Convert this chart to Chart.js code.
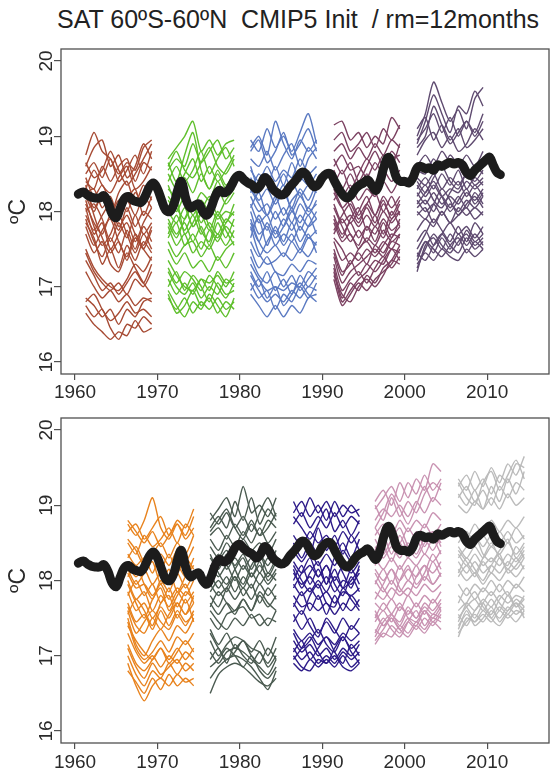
<!DOCTYPE html>
<html lang="en">
<head>
<meta charset="UTF-8">
<title>SAT 60ºS-60ºN CMIP5 Init</title>
<script src="https://cdn.jsdelivr.net/npm/chart.js"></script>
<style>
  html, body { margin: 0; padding: 0; background: #fff; }
  body { width: 552px; height: 776px; position: relative; overflow: hidden; }
  #title { position: absolute; left: 57px; top: 5px; font: 25px 'Liberation Sans', Arial, sans-serif; color: #222; white-space: pre; }
  canvas { position: absolute; left: 0; }
  #chartTop { top: 0; }
  #chartBottom { top: 400px; }
</style>
</head>
<body>
<div id="title">SAT 60ºS-60ºN  CMIP5 Init  / rm=12months</div>
<canvas id="chartTop" width="552" height="400"></canvas>
<canvas id="chartBottom" width="552" height="376"></canvas>
<script>
// observed SAT, 12 month running mean
const obsYear = [1960.4, 1961.0, 1961.5, 1962.0, 1962.5, 1963.0, 1963.5, 1964.0, 1964.5, 1965.0,
  1965.5, 1966.0, 1966.5, 1967.0, 1967.5, 1968.0, 1968.5, 1969.0, 1969.5, 1970.0,
  1970.5, 1971.0, 1971.5, 1972.0, 1972.5, 1972.9, 1973.5, 1974.0, 1974.5, 1975.0,
  1975.5, 1976.0, 1976.5, 1977.0, 1977.5, 1978.0, 1978.5, 1979.0, 1979.5, 1980.0,
  1980.5, 1981.0, 1981.5, 1982.0, 1982.5, 1983.0, 1983.5, 1984.0, 1984.5, 1985.0,
  1985.5, 1986.0, 1986.5, 1987.0, 1987.5, 1988.0, 1988.5, 1989.0, 1989.5, 1990.0,
  1990.5, 1991.0, 1991.5, 1992.0, 1992.5, 1993.0, 1993.5, 1994.0, 1994.5, 1995.0,
  1995.5, 1996.0, 1996.5, 1997.0, 1997.5, 1998.0, 1998.5, 1999.0, 1999.5, 2000.0,
  2000.5, 2001.0, 2001.5, 2002.0, 2002.5, 2003.0, 2003.5, 2004.0, 2004.5, 2005.0,
  2005.5, 2006.0, 2006.5, 2007.0, 2007.5, 2008.0, 2008.5, 2009.0, 2009.5, 2010.0,
  2010.3, 2010.8, 2011.2, 2011.6];
const obsTemp = [18.23, 18.26, 18.22, 18.19, 18.18, 18.18, 18.21, 18.12, 17.97, 17.92,
  18.05, 18.17, 18.20, 18.15, 18.13, 18.12, 18.20, 18.32, 18.38, 18.30,
  18.15, 18.02, 18.00, 18.10, 18.30, 18.40, 18.15, 18.05, 18.08, 18.10,
  18.00, 17.95, 18.05, 18.20, 18.28, 18.25, 18.27, 18.35, 18.45, 18.48,
  18.42, 18.38, 18.35, 18.30, 18.35, 18.45, 18.40, 18.30, 18.25, 18.22,
  18.24, 18.32, 18.38, 18.45, 18.52, 18.50, 18.40, 18.33, 18.36, 18.45,
  18.50, 18.50, 18.40, 18.30, 18.22, 18.18, 18.22, 18.30, 18.35, 18.38,
  18.42, 18.35, 18.28, 18.40, 18.60, 18.72, 18.62, 18.45, 18.40, 18.40,
  18.38, 18.45, 18.58, 18.60, 18.57, 18.58, 18.55, 18.62, 18.60, 18.63,
  18.65, 18.63, 18.65, 18.62, 18.52, 18.48, 18.55, 18.60, 18.65, 18.70,
  18.72, 18.60, 18.52, 18.49];

// hindcast start dates and colours
const startTop = [1961.3, 1971.3, 1981.3, 1991.4, 2001.5];
const startBottom = [1966.4, 1976.4, 1986.5, 1996.4, 2006.5];
const colourTop = ['#a74b34', '#5fbf2c', '#5b7ac2', '#7c4262', '#5f4b70'];
const colourBottom = ['#e8831e', '#4b5b51', '#2d1b89', '#c993b2', '#bbbbbb'];
const leadYears = [0, 1, 2, 3, 4, 5, 6, 7, 8];

// ensemble members, one value per lead year
const run1961 = [
  [18.75,19.05,18.8,18.7,18.5,18.65,18.55,18.85,18.95],
  [18.6,18.85,18.95,18.6,18.75,18.45,18.6,18.9,18.7],
  [18.5,18.65,18.45,18.7,18.4,18.55,18.75,18.5,18.8],
  [18.4,18.3,18.6,18.4,18.6,18.7,18.4,18.65,18.55],
  [18.65,18.45,18.55,18.8,18.55,18.35,18.5,18.7,18.9],
  [18.3,18.55,18.35,18.25,18.45,18.6,18.3,18.4,18.6],
  [18.2,18.0,18.25,17.95,18.15,18.0,18.25,18.1,18.3],
  [18.1,17.85,17.7,17.95,17.75,18.05,17.8,18.0,17.9],
  [18.0,18.1,17.9,17.6,17.85,17.65,17.95,17.7,17.85],
  [17.9,17.6,17.4,17.65,17.45,17.75,17.5,17.8,17.6],
  [18.35,17.95,17.65,17.45,17.6,17.35,17.65,17.5,17.75],
  [18.25,18.3,18.05,18.2,17.9,18.15,18.3,17.95,18.2],
  [17.95,17.75,17.95,18.1,17.8,17.95,17.7,17.55,17.8],
  [18.15,17.8,17.55,17.7,17.95,17.7,17.45,17.7,17.5],
  [17.8,17.55,17.75,17.9,17.6,17.4,17.7,17.5,17.35],
  [18.05,17.7,17.85,17.5,17.7,17.85,17.6,17.85,18.05],
  [18.45,18.2,18.35,18.1,17.9,18.15,17.95,18.2,18.05],
  [17.7,17.45,17.6,17.3,17.2,17.45,17.25,17.05,16.9],
  [17.85,17.65,17.3,17.5,17.25,17.55,17.35,17.6,17.45],
  [18.3,18.05,18.2,17.95,18.25,18.4,18.1,18.35,18.15],
  [17.5,17.25,17.1,17.0,16.95,17.1,17.3,17.2,17.4],
  [17.45,17.2,17.05,16.95,17.05,16.9,17.1,17.0,17.2],
  [17.35,17.15,16.95,17.05,16.9,17.05,17.2,17.05,17.3],
  [16.85,16.75,16.6,16.7,16.5,16.7,16.6,16.8,16.85],
  [16.75,16.6,16.7,16.45,16.3,16.5,16.45,16.6,16.5],
  [16.65,16.5,16.4,16.3,16.4,16.35,16.55,16.4,16.45],
  [17.2,17.0,16.85,16.95,16.8,16.9,16.75,16.85,16.8],
  [16.8,16.9,16.7,16.55,16.65,16.8,16.65,16.7,16.6]
];
const run1971 = [
  [18.7,18.85,19.0,19.2,18.8,18.95,18.75,18.9,18.95],
  [18.55,18.7,18.6,18.9,18.65,18.8,18.95,18.7,18.85],
  [18.65,18.4,18.75,19.05,18.55,18.3,18.5,18.3,18.4],
  [18.5,18.3,18.5,18.7,18.4,18.6,18.4,18.55,18.75],
  [18.4,18.6,18.4,18.55,18.8,18.5,18.7,18.85,18.6],
  [18.6,18.8,18.55,18.45,18.65,18.85,18.6,18.5,18.7],
  [18.3,18.2,18.45,18.25,18.5,18.3,18.55,18.35,18.5],
  [18.15,18.0,18.2,17.95,18.15,18.0,18.3,18.1,18.25],
  [18.0,17.85,18.05,17.8,17.95,17.75,18.0,17.85,18.1],
  [17.9,17.7,17.85,17.6,17.8,17.55,17.85,17.65,17.9],
  [17.8,17.55,17.7,17.45,17.6,17.5,17.7,17.55,17.75],
  [17.6,17.4,17.55,17.6,17.4,17.55,17.35,17.5,17.6],
  [18.2,18.05,17.9,18.1,17.85,18.05,17.9,18.0,17.95],
  [17.7,17.95,17.75,17.95,17.7,17.85,17.7,17.9,17.8],
  [18.35,18.1,18.3,18.05,18.25,18.15,18.4,18.2,18.45],
  [17.5,17.3,17.45,17.25,17.35,17.2,17.4,17.25,17.45],
  [18.05,18.25,18.1,17.8,18.0,18.2,17.95,18.15,18.3],
  [17.85,17.65,17.9,18.1,17.75,17.6,17.95,17.75,17.55],
  [17.95,18.15,17.7,17.85,18.05,17.8,17.65,17.85,18.0],
  [17.65,17.85,17.55,17.7,17.5,17.75,17.6,17.8,17.65],
  [17.35,17.15,17.0,16.95,17.1,17.05,17.15,17.0,17.2],
  [17.2,17.0,16.9,17.05,16.85,17.0,16.9,17.1,17.0],
  [16.95,16.75,16.6,16.8,16.7,16.9,16.75,16.6,16.85],
  [16.85,16.7,16.85,16.65,16.8,16.7,16.85,16.7,16.8],
  [17.1,16.9,17.05,16.9,17.1,16.95,17.2,17.05,17.1],
  [17.25,17.05,17.2,17.1,16.95,17.15,17.0,16.85,17.05],
  [17.0,17.2,16.95,17.15,17.0,16.8,17.05,16.9,16.95],
  [16.9,16.65,16.75,16.95,16.75,16.85,16.65,16.8,16.7]
];
const run1981 = [
  [18.95,18.8,19.1,18.85,19.0,18.8,19.05,19.3,18.9],
  [18.85,19.0,18.75,19.2,18.9,18.7,18.95,18.8,18.95],
  [18.7,18.6,18.8,18.55,18.75,18.9,18.6,18.85,18.7],
  [18.55,18.4,18.6,18.4,18.55,18.45,18.7,18.5,18.6],
  [18.25,18.5,18.35,18.6,18.35,18.65,18.4,18.7,18.85],
  [18.8,18.95,18.65,18.8,19.05,18.75,18.9,19.1,18.8],
  [18.35,18.15,18.3,18.1,18.25,18.05,18.3,18.15,18.4],
  [18.2,18.0,18.1,17.9,18.05,17.85,18.1,17.95,18.15],
  [18.1,17.85,17.95,17.7,17.9,17.75,17.95,17.8,17.9],
  [18.0,17.7,17.8,17.55,17.7,17.6,17.8,17.65,17.75],
  [17.9,17.6,17.45,17.55,17.4,17.6,17.45,17.65,17.55],
  [17.8,17.45,17.3,17.35,17.45,17.35,17.5,17.4,17.6],
  [18.45,18.25,18.45,18.3,18.5,18.3,18.45,18.35,18.5],
  [17.65,17.95,17.75,18.0,17.8,18.0,17.85,18.05,17.9],
  [18.6,18.3,18.5,18.25,18.2,18.4,18.2,18.35,18.25],
  [17.6,17.4,17.6,17.75,17.55,17.7,17.5,17.7,17.45],
  [18.05,18.25,17.95,18.15,18.35,18.0,18.2,18.05,18.3],
  [17.85,17.6,17.85,17.65,17.8,18.05,17.75,17.95,17.7],
  [17.75,17.9,17.55,17.8,17.6,17.85,17.6,17.8,18.0],
  [18.3,18.1,17.95,18.2,17.95,18.15,18.25,18.0,18.1],
  [17.3,17.1,16.95,17.0,16.95,17.05,17.0,17.2,17.1],
  [17.15,16.95,16.8,16.9,16.8,16.95,16.85,17.0,16.95],
  [16.9,16.75,16.6,16.75,16.6,16.75,16.65,16.85,16.9],
  [17.05,16.85,16.95,16.7,16.9,16.8,17.0,16.85,17.05],
  [17.5,17.25,17.4,17.2,17.15,17.3,17.2,17.35,17.3],
  [17.4,17.15,17.05,17.2,17.0,17.15,16.95,17.1,17.25],
  [16.95,17.1,16.85,17.0,16.75,16.9,17.05,16.9,16.8],
  [17.2,17.0,17.2,16.95,17.1,16.9,17.15,17.0,17.15]
];
const run1991 = [
  [19.15,19.2,18.95,19.05,18.85,19.0,18.9,19.25,19.1],
  [18.95,19.05,18.8,18.9,19.05,18.85,19.1,18.95,19.15],
  [18.8,18.9,18.7,18.85,18.7,18.9,18.75,18.95,18.85],
  [18.6,18.75,18.55,18.6,18.45,18.65,18.5,18.7,18.75],
  [18.35,18.55,18.3,18.5,18.7,18.55,18.75,18.6,18.9],
  [18.7,18.5,18.65,18.4,18.6,18.8,18.6,18.8,18.65],
  [18.4,18.2,18.35,18.15,18.3,18.2,18.4,18.25,18.45],
  [18.25,18.05,18.15,17.95,18.1,17.95,18.2,18.05,18.2],
  [18.1,17.85,17.95,17.8,17.95,17.8,18.0,17.85,18.0],
  [17.95,17.7,17.85,17.65,17.8,17.7,17.9,17.75,17.85],
  [17.85,17.6,17.7,17.5,17.65,17.55,17.75,17.6,17.7],
  [18.55,18.3,18.5,18.3,18.5,18.35,18.55,18.4,18.55],
  [17.75,17.95,18.1,17.9,18.05,17.85,18.1,17.95,18.15],
  [18.05,17.8,17.6,17.75,17.6,17.8,17.65,17.9,18.0],
  [18.15,18.3,18.05,17.85,18.1,18.25,18.0,18.2,17.95],
  [17.9,17.65,17.9,18.05,17.75,17.95,17.7,18.0,17.8],
  [18.3,18.05,17.85,18.0,18.2,17.95,18.15,17.9,18.1],
  [17.7,17.9,17.7,17.55,17.8,17.6,17.85,17.65,17.9],
  [17.2,16.8,16.95,17.1,17.2,17.35,17.3,17.5,17.45],
  [17.25,16.85,17.05,16.95,17.15,17.05,17.25,17.35,17.55],
  [17.1,16.75,16.9,17.05,16.95,17.1,17.2,17.3,17.5],
  [17.4,17.05,17.2,17.3,17.4,17.5,17.4,17.6,17.55],
  [17.6,17.35,17.45,17.35,17.5,17.4,17.55,17.7,17.65],
  [17.5,17.2,17.3,17.45,17.3,17.55,17.45,17.65,17.8],
  [17.3,16.95,17.1,17.2,17.05,17.25,17.4,17.25,17.4],
  [17.45,17.15,17.35,17.15,17.3,17.2,17.35,17.5,17.35],
  [17.65,17.5,17.3,17.5,17.6,17.45,17.6,17.5,17.7],
  [17.15,16.9,16.8,17.0,17.1,17.0,17.15,17.35,17.3]
];
const run2001 = [
  [19.0,19.3,19.72,19.45,19.2,19.35,19.1,19.5,19.65],
  [18.9,19.2,19.55,19.3,19.05,19.4,19.3,19.6,19.4],
  [18.95,19.1,19.3,19.05,19.25,19.0,19.2,19.05,19.3],
  [18.75,18.95,19.05,18.85,19.0,18.8,18.9,19.1,18.95],
  [19.1,19.25,18.95,19.15,18.95,19.1,18.85,18.95,19.1],
  [18.85,19.0,19.4,19.15,18.9,19.05,19.2,19.0,19.2],
  [18.6,18.75,18.6,18.8,18.65,18.6,18.75,18.6,18.8],
  [18.45,18.35,18.5,18.3,18.45,18.35,18.5,18.4,18.55],
  [18.35,18.2,18.35,18.2,18.3,18.25,18.4,18.3,18.4],
  [18.25,18.1,18.25,18.1,18.2,18.1,18.25,18.15,18.3],
  [18.15,18.0,18.1,17.95,18.1,18.0,18.15,18.05,18.2],
  [18.05,18.15,18.0,18.2,18.05,18.2,18.05,18.25,18.1],
  [18.55,18.5,18.7,18.55,18.75,18.6,18.45,18.6,18.5],
  [18.3,18.45,18.3,18.5,18.35,18.55,18.3,18.45,18.35],
  [17.95,18.05,17.85,18.0,17.85,18.05,17.95,18.05,17.95],
  [17.75,17.9,17.8,18.0,17.85,17.95,18.05,17.9,18.0],
  [18.2,18.35,18.15,18.05,18.25,18.4,18.2,18.35,18.2],
  [18.4,18.25,18.45,18.6,18.4,18.3,18.5,18.35,18.45],
  [18.1,18.25,18.4,18.2,18.0,18.15,18.3,18.1,18.25],
  [18.0,17.9,18.1,18.3,18.15,17.95,18.1,18.2,18.05],
  [17.2,17.55,17.65,17.5,17.7,17.55,17.75,17.6,17.7],
  [17.4,17.6,17.45,17.65,17.5,17.7,17.55,17.7,17.55],
  [17.6,17.75,17.55,17.7,17.85,17.7,17.8,17.65,17.8],
  [17.3,17.45,17.35,17.5,17.4,17.35,17.5,17.4,17.5],
  [17.5,17.7,17.9,17.75,17.6,17.8,17.6,17.85,17.7],
  [17.35,17.6,17.5,17.4,17.55,17.65,17.45,17.6,17.5],
  [17.25,17.5,17.7,17.55,17.45,17.6,17.7,17.55,17.65],
  [17.45,17.35,17.55,17.7,17.55,17.45,17.65,17.5,17.6]
];
const run1966 = [
  [18.75,18.6,18.8,19.1,18.7,18.55,18.75,18.6,18.85],
  [18.65,18.75,18.55,18.7,18.85,18.6,18.8,18.7,18.95],
  [18.5,18.35,18.6,18.45,18.55,18.7,18.5,18.75,18.6],
  [18.55,18.4,18.2,18.35,18.5,18.3,18.5,18.35,18.6],
  [18.8,18.65,18.5,18.65,18.45,18.6,18.75,18.55,18.7],
  [18.35,18.2,18.3,18.1,18.35,18.2,18.4,18.25,18.45],
  [18.2,18.05,18.15,17.95,18.1,18.0,18.2,18.05,18.3],
  [18.1,17.9,17.95,17.8,17.95,17.75,17.9,17.8,18.0],
  [18.0,17.75,17.85,17.6,17.8,17.65,17.85,17.7,17.85],
  [17.85,17.6,17.7,17.5,17.65,17.5,17.7,17.55,17.7],
  [17.6,17.3,17.45,17.6,17.45,17.35,17.55,17.4,17.6],
  [18.3,18.45,18.25,18.4,18.15,18.35,18.1,18.3,18.15],
  [17.8,18.0,17.8,17.95,17.7,17.9,17.65,17.85,17.75],
  [17.7,17.45,17.55,17.35,17.6,17.4,17.6,17.45,17.55],
  [17.95,17.7,17.5,17.75,17.9,17.6,17.8,17.95,17.7],
  [18.15,17.95,18.1,18.25,17.95,18.15,17.85,18.05,18.2],
  [17.55,17.75,17.6,17.4,17.7,17.8,17.5,17.75,17.45],
  [17.65,17.4,17.3,17.5,17.35,17.55,17.7,17.55,17.8],
  [18.05,18.2,17.95,17.75,18.0,17.85,18.1,17.9,18.1],
  [17.5,17.15,17.0,17.2,17.35,17.2,17.4,17.3,17.5],
  [17.45,17.1,16.95,17.05,17.2,17.05,17.25,17.15,17.3],
  [17.3,17.05,16.9,17.0,16.85,17.0,16.9,17.05,16.95],
  [17.15,16.9,16.8,16.95,17.1,16.95,17.1,16.95,17.1],
  [17.0,16.75,16.6,16.8,16.7,16.9,16.75,16.9,16.8],
  [16.9,16.6,16.4,16.6,16.7,16.6,16.75,16.65,16.7],
  [16.8,16.65,16.5,16.7,16.55,16.75,16.6,16.7,16.6],
  [17.1,16.85,16.7,16.9,16.75,16.85,16.95,16.8,16.9],
  [17.4,17.2,17.05,16.95,17.1,16.9,17.05,17.2,17.05]
];
const run1976 = [
  [18.8,18.95,19.1,18.85,19.25,18.9,19.0,18.85,19.1],
  [18.7,18.85,18.7,19.05,18.8,19.1,18.75,18.95,18.8],
  [18.6,18.7,18.55,18.75,18.6,18.8,18.6,18.7,18.9],
  [18.9,18.75,18.9,18.7,18.85,18.65,18.9,19.1,18.85],
  [18.55,18.4,18.6,18.45,18.65,18.5,18.7,18.5,18.65],
  [18.65,18.8,18.95,18.7,18.55,18.75,18.6,18.8,18.7],
  [18.45,18.3,18.5,18.35,18.55,18.4,18.5,18.35,18.55],
  [18.3,18.15,18.35,18.2,18.35,18.15,18.35,18.2,18.4],
  [18.2,18.05,18.2,18.0,18.2,18.05,18.2,18.05,18.25],
  [18.1,17.9,18.05,17.85,18.05,17.9,18.1,17.95,18.1],
  [17.95,17.8,17.9,17.75,17.9,17.75,17.95,17.8,17.95],
  [17.7,17.55,17.7,17.6,17.75,17.6,17.8,17.65,17.8],
  [17.85,18.0,17.85,18.05,17.9,18.1,17.95,18.1,18.0],
  [18.15,18.35,18.15,18.3,18.15,18.3,18.1,18.3,18.2],
  [18.35,18.1,17.95,18.15,18.3,18.05,18.25,18.0,18.15],
  [17.8,17.65,17.9,18.05,17.8,17.95,17.7,17.9,17.75],
  [18.05,18.25,18.4,18.15,17.95,18.2,18.35,18.1,18.3],
  [17.65,17.85,17.7,17.55,17.75,17.6,17.85,17.7,17.6],
  [17.5,17.35,17.55,17.6,17.65,17.5,17.55,17.4,17.6],
  [17.6,17.45,17.35,17.5,17.4,17.55,17.4,17.5,17.45],
  [17.35,17.15,17.3,17.1,17.2,17.05,17.2,17.0,17.25],
  [17.2,17.0,17.15,17.25,17.2,17.1,17.05,16.9,17.1],
  [17.05,16.9,17.05,17.1,17.05,16.95,16.85,16.75,16.95],
  [16.7,16.85,16.95,17.0,16.95,16.85,16.7,16.55,16.8],
  [16.5,16.75,16.85,16.9,16.85,16.75,16.65,16.6,16.7],
  [16.95,17.1,16.9,17.15,17.0,16.9,17.05,16.85,17.0],
  [17.3,17.1,16.95,17.05,17.2,17.0,16.9,17.1,16.95],
  [16.85,16.95,17.1,17.0,16.85,17.0,16.8,16.7,16.85]
];
const run1986 = [
  [19.05,18.85,19.1,18.9,19.05,18.85,19.0,18.9,18.95],
  [18.9,19.05,18.85,19.0,18.8,19.05,18.85,19.0,18.85],
  [18.75,18.9,18.7,18.85,18.7,18.9,18.7,18.85,18.75],
  [18.6,18.45,18.65,18.5,18.6,18.45,18.65,18.5,18.65],
  [18.3,18.55,18.35,18.7,18.4,18.6,18.35,18.6,18.4],
  [18.85,18.7,18.55,18.75,18.95,18.65,18.8,18.6,18.8],
  [18.4,18.25,18.4,18.2,18.35,18.2,18.4,18.25,18.4],
  [18.25,18.1,18.2,18.05,18.2,18.0,18.2,18.1,18.25],
  [18.1,17.95,18.05,17.9,18.05,17.85,18.0,17.95,18.1],
  [17.95,17.8,17.9,17.75,17.85,17.7,17.85,17.8,17.9],
  [17.8,17.65,17.7,17.6,17.7,17.55,17.7,17.6,17.75],
  [18.5,18.3,18.5,18.35,18.55,18.35,18.5,18.3,18.55],
  [18.0,18.2,17.95,18.15,17.95,18.15,17.9,18.15,17.95],
  [17.65,17.85,17.6,17.8,17.55,17.8,17.6,17.8,17.65],
  [18.2,18.0,17.85,18.0,17.85,18.05,17.9,18.0,18.15],
  [17.9,18.1,18.3,18.05,18.2,17.95,17.8,18.05,17.85],
  [18.15,17.9,18.1,18.25,17.95,18.3,18.1,17.9,18.2],
  [17.7,17.55,17.8,17.95,17.7,17.65,17.9,17.75,17.6],
  [17.55,17.35,17.5,17.3,17.45,17.3,17.5,17.35,17.5],
  [17.35,17.2,17.3,17.15,17.25,17.15,17.3,17.2,17.3],
  [17.1,16.95,17.05,16.9,17.0,16.9,17.05,16.95,17.05],
  [16.9,16.8,16.95,16.85,16.95,16.85,17.0,16.85,16.95],
  [17.0,16.85,16.8,16.95,16.9,17.0,16.85,16.8,16.9],
  [17.2,17.05,17.15,17.0,17.1,16.95,17.1,17.0,17.15],
  [17.45,17.6,17.4,17.25,17.5,17.35,17.2,17.4,17.3],
  [17.05,17.2,16.95,17.1,17.25,17.05,16.9,17.15,17.0],
  [16.95,17.1,17.25,17.05,16.9,17.1,17.25,17.05,16.9],
  [17.3,17.1,17.2,17.35,17.15,17.05,17.25,17.1,17.2]
];
const run1996 = [
  [19.05,19.2,19.0,19.3,19.1,19.35,19.2,19.55,19.45],
  [18.95,19.1,19.25,19.05,19.3,19.15,19.4,19.2,19.35],
  [18.8,18.95,18.85,19.0,18.85,19.05,18.9,19.1,19.0],
  [18.6,18.75,18.6,18.8,18.65,18.8,18.7,18.9,18.8],
  [19.0,18.8,19.1,18.85,19.05,18.9,19.15,19.3,19.2],
  [18.7,18.9,19.15,18.95,18.75,19.0,19.25,19.05,19.3],
  [18.45,18.3,18.45,18.3,18.5,18.35,18.55,18.4,18.6],
  [18.3,18.15,18.3,18.15,18.3,18.2,18.35,18.25,18.4],
  [18.15,18.0,18.15,18.0,18.15,18.05,18.2,18.1,18.25],
  [18.0,17.85,18.0,17.85,18.0,17.9,18.05,17.95,18.1],
  [17.85,17.75,17.9,17.8,17.9,17.8,17.95,17.85,17.95],
  [18.7,18.55,18.7,18.5,18.7,18.55,18.75,18.6,18.75],
  [18.2,18.45,18.25,18.5,18.3,18.55,18.35,18.55,18.35],
  [17.95,18.15,17.95,18.2,18.0,18.2,18.0,18.25,18.05],
  [18.4,18.6,18.35,18.6,18.4,18.65,18.45,18.65,18.5],
  [17.75,17.95,18.15,17.9,17.8,18.05,18.2,17.95,18.1],
  [18.1,17.9,17.75,18.0,18.2,17.95,18.1,18.35,18.15],
  [18.55,18.35,18.55,18.7,18.45,18.3,18.5,18.65,18.45],
  [17.55,17.4,17.5,17.35,17.5,17.45,17.6,17.5,17.65],
  [17.35,17.25,17.4,17.3,17.45,17.35,17.5,17.4,17.55],
  [17.15,17.3,17.25,17.4,17.3,17.45,17.35,17.5,17.45],
  [17.25,17.45,17.55,17.4,17.6,17.5,17.65,17.55,17.7],
  [17.7,17.6,17.75,17.6,17.8,17.65,17.8,17.7,17.85],
  [17.45,17.6,17.45,17.65,17.55,17.7,17.55,17.75,17.6],
  [17.3,17.5,17.35,17.25,17.45,17.6,17.4,17.55,17.5],
  [17.6,17.4,17.55,17.7,17.5,17.4,17.6,17.45,17.6],
  [17.2,17.35,17.5,17.35,17.25,17.4,17.3,17.45,17.35],
  [17.5,17.7,17.55,17.45,17.65,17.5,17.7,17.6,17.75]
];
const run2006 = [
  [19.35,19.2,19.45,19.25,19.5,19.3,19.55,19.4,19.65],
  [19.25,19.4,19.2,19.35,19.15,19.4,19.3,19.55,19.5],
  [19.1,19.25,19.05,19.2,19.0,19.25,19.1,19.3,19.2],
  [19.0,18.9,19.05,18.95,19.1,18.95,19.15,19.0,19.1],
  [19.15,19.0,19.2,18.95,19.25,19.05,19.35,19.15,19.45],
  [19.3,19.1,19.0,19.3,19.45,19.2,19.4,19.6,19.35],
  [18.6,18.45,18.6,18.45,18.6,18.5,18.65,18.5,18.6],
  [18.45,18.3,18.45,18.3,18.45,18.35,18.5,18.35,18.5],
  [18.35,18.2,18.35,18.2,18.3,18.2,18.35,18.25,18.4],
  [18.25,18.1,18.25,18.1,18.2,18.1,18.25,18.15,18.3],
  [18.15,18.0,18.1,17.95,18.1,18.0,18.15,18.05,18.2],
  [18.05,18.2,18.05,18.25,18.1,18.3,18.15,18.3,18.15],
  [18.7,18.55,18.75,18.6,18.8,18.65,18.8,18.7,18.85],
  [18.5,18.65,18.5,18.6,18.45,18.65,18.5,18.7,18.55],
  [17.95,17.8,17.95,17.85,18.0,17.85,18.0,17.9,18.05],
  [18.3,18.45,18.6,18.35,18.25,18.4,18.55,18.3,18.45],
  [18.1,18.3,18.15,18.0,18.2,18.35,18.1,18.2,18.35],
  [18.4,18.25,18.1,18.3,18.5,18.3,18.2,18.45,18.3],
  [17.25,17.5,17.45,17.6,17.5,17.65,17.55,17.7,17.6],
  [17.4,17.55,17.45,17.55,17.45,17.6,17.5,17.6,17.55],
  [17.6,17.7,17.6,17.75,17.65,17.8,17.7,17.8,17.75],
  [17.3,17.45,17.55,17.45,17.6,17.5,17.65,17.55,17.65],
  [17.7,17.9,17.75,17.9,17.8,17.95,17.8,17.95,17.85],
  [17.5,17.65,17.75,17.6,17.75,17.6,17.8,17.65,17.8],
  [17.35,17.6,17.4,17.5,17.65,17.45,17.6,17.7,17.5],
  [17.55,17.4,17.6,17.7,17.5,17.4,17.55,17.45,17.6],
  [17.8,17.65,17.5,17.7,17.85,17.7,17.6,17.75,17.65],
  [17.45,17.7,17.85,17.65,17.55,17.75,17.85,17.65,17.75]
];

const runsTop = [run1961, run1971, run1981, run1991, run2001];
const runsBottom = [run1966, run1976, run1986, run1996, run2006];

const FONT = "'Liberation Sans', Arial, sans-serif";
const xTicks = [1960, 1970, 1980, 1990, 2000, 2010];

// box around the plotting region
const frame = {
  id: 'frame',
  afterDraw(chart) {
    const { ctx, chartArea: a } = chart;
    ctx.save();
    ctx.strokeStyle = '#505050';
    ctx.lineWidth = 1.3;
    ctx.strokeRect(a.left, a.top, a.right - a.left, a.bottom - a.top);
    ctx.restore();
  }
};

function buildDatasets(starts, colours, runs) {
  const sets = [{
    data: obsYear.map((yr, i) => ({ x: yr, y: obsTemp[i] })),
    borderColor: '#1c1c1c',
    borderWidth: 9,
    borderCapStyle: 'round',
    borderJoinStyle: 'round',
    tension: 0.4,
    pointRadius: 0
  }];
  runs.forEach((members, g) => {
    members.forEach(m => {
      sets.push({
        data: m.map((v, i) => ({ x: starts[g] + leadYears[i], y: v })),
        borderColor: colours[g],
        borderWidth: 1.4,
        tension: 0.25,
        pointRadius: 0
      });
    });
  });
  return sets;
}

function makeChart(id, starts, colours, runs, padTop, xHeight, xPad) {
  const ctx = document.getElementById(id).getContext('2d');
  return new Chart(ctx, {
    type: 'line',
    data: { datasets: buildDatasets(starts, colours, runs) },
    options: {
      responsive: false,
      animation: false,
      events: [],
      layout: { padding: { top: padTop, right: 3, left: 0, bottom: 0 } },
      plugins: { legend: { display: false }, tooltip: { enabled: false } },
      scales: {
        x: {
          type: 'linear',
          min: 1958.3,
          max: 2017.5,
          afterFit: s => { s.height = xHeight; },
          afterBuildTicks: s => { s.ticks = xTicks.map(v => ({ value: v })); },
          border: { display: false },
          grid: { drawOnChartArea: false, drawTicks: true, tickLength: 6, color: '#505050', lineWidth: 1.2 },
          ticks: {
            color: '#2a2a2a', padding: xPad, maxRotation: 0, autoSkip: false,
            font: { family: FONT, size: 19 },
            callback: v => String(v)
          }
        },
        y: {
          type: 'linear',
          min: 15.84,
          max: 20.16,
          afterFit: s => { s.width = 61; },
          border: { display: false },
          grid: { drawOnChartArea: false, drawTicks: true, tickLength: 7, color: '#505050', lineWidth: 1.2 },
          ticks: {
            stepSize: 1, includeBounds: false,
            minRotation: 90, maxRotation: 90, crossAlign: 'center', padding: -3,
            color: '#2a2a2a', font: { family: FONT, size: 19 },
            callback: v => String(v)
          },
          title: {
            display: true, text: 'ºC', color: '#2a2a2a',
            font: { family: FONT, size: 23 },
            padding: { top: 5, bottom: 0 }
          }
        }
      }
    },
    plugins: [frame]
  });
}

makeChart('chartTop', startTop, colourTop, runsTop, 49, 26, 1);
makeChart('chartBottom', startBottom, colourBottom, runsBottom, 18, 33, 2);
</script>
</body>
</html>
